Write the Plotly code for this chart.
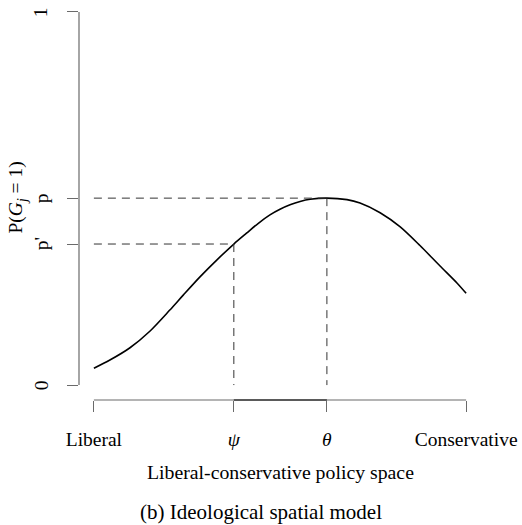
import plotly.graph_objects as go

# Curve values (x: 0 = Liberal, 1 = Conservative)
curve_x = [0.0, 0.043, 0.097, 0.151, 0.204, 0.240, 0.285, 0.330, 0.376, 0.410,
           0.441, 0.473, 0.500, 0.527, 0.554, 0.581, 0.626, 0.680, 0.715, 0.769,
           0.823, 0.876, 0.930, 0.976, 1.0]
curve_y = [0.045, 0.067, 0.100, 0.145, 0.201, 0.241, 0.290, 0.335, 0.378, 0.407,
           0.433, 0.456, 0.471, 0.483, 0.492, 0.498, 0.501, 0.497, 0.488, 0.462,
           0.424, 0.374, 0.319, 0.273, 0.246]

psi = 0.376
theta = 0.626
p_val = 0.501
p_prime = 0.378

x_tickvals = [0.0, psi, theta, 1.0]
x_ticktext = ["Liberal", "<i>ψ</i>", "<i>θ</i>", "Conservative"]
y_tickvals = [0.0, p_prime, p_val, 1.0]
y_ticktext = ["0", "p'", "p", "1"]

FONT = "Liberation Serif, Times New Roman, serif"
AXC = "#6a6a6a"
DASHC = "#333333"
FS = 19.5

fig = go.Figure()
fig.add_trace(go.Scatter(x=curve_x, y=curve_y, mode="lines",
                         line=dict(color="black", width=1.6, shape="spline", smoothing=0.8),
                         hoverinfo="skip", showlegend=False))

shapes = []
# axis lines spanning first to last tick
shapes.append(dict(type="line", xref="paper", yref="y", x0=0, x1=0,
                   y0=y_tickvals[0], y1=y_tickvals[-1], line=dict(color=AXC, width=1.2)))
shapes.append(dict(type="line", xref="x", yref="paper", x0=x_tickvals[0], x1=x_tickvals[-1],
                   y0=0, y1=0, line=dict(color=AXC, width=1.2)))
shapes.append(dict(type="line", xref="x", yref="paper", x0=psi, x1=theta,
                   y0=0, y1=0, line=dict(color="black", width=1.2)))
# dashed guides
dash = "8px,6px"
shapes.append(dict(type="line", xref="x", yref="y", x0=x_tickvals[0], x1=theta, y0=p_val, y1=p_val,
                   line=dict(color=DASHC, width=1, dash=dash)))
shapes.append(dict(type="line", xref="x", yref="y", x0=x_tickvals[0], x1=psi, y0=p_prime, y1=p_prime,
                   line=dict(color=DASHC, width=1, dash=dash)))
shapes.append(dict(type="line", xref="x", yref="y", x0=theta, x1=theta, y0=p_val, y1=0,
                   line=dict(color=DASHC, width=1, dash=dash)))
shapes.append(dict(type="line", xref="x", yref="y", x0=psi, x1=psi, y0=p_prime, y1=0,
                   line=dict(color=DASHC, width=1, dash=dash)))

annotations = [
    dict(text="Liberal-conservative policy space", xref="paper", yref="paper",
         x=0.5, y=-0.18, xanchor="center", yanchor="middle", showarrow=False,
         font=dict(family=FONT, size=19.8, color="black")),
    dict(text="(b) Ideological spatial model", xref="paper", yref="paper",
         x=0.4527, y=-0.28, xanchor="center", yanchor="middle", showarrow=False,
         font=dict(family=FONT, size=21, color="black")),
    dict(text="P(<i>G<sub>j</sub></i> = 1)", xref="paper", yref="paper",
         x=-0.153, y=0.5075, xanchor="center", yanchor="middle", showarrow=False,
         textangle=-90, font=dict(family=FONT, size=FS, color="black")),
]
# y tick labels (rotated, R style)
for v, t in zip(y_tickvals, y_ticktext):
    annotations.append(dict(text=t, xref="paper", yref="y", x=-0.094, y=v,
                            xanchor="center", yanchor="middle", showarrow=False,
                            textangle=-90, font=dict(family=FONT, size=FS, color="black")))

fig.update_layout(
    width=522, height=525, autosize=False,
    margin=dict(l=79, r=41, t=0, b=125, pad=0),
    paper_bgcolor="white", plot_bgcolor="white",
    font=dict(family=FONT, size=FS, color="black"),
    shapes=shapes, annotations=annotations,
    xaxis=dict(range=[-0.04, 1.04], showline=False, showgrid=False, zeroline=False,
               tickmode="array", tickvals=x_tickvals, ticktext=x_ticktext,
               ticks="outside", ticklen=11, tickwidth=1.2, tickcolor=AXC,
               ticklabelstandoff=11, tickfont=dict(family=FONT, size=FS, color="black")),
    yaxis=dict(range=[-0.04, 1.032], showline=False, showgrid=False, zeroline=False,
               tickmode="array", tickvals=y_tickvals, showticklabels=False,
               ticks="outside", ticklen=11, tickwidth=1.2, tickcolor=AXC),
)

fig.write_html("out.html")
